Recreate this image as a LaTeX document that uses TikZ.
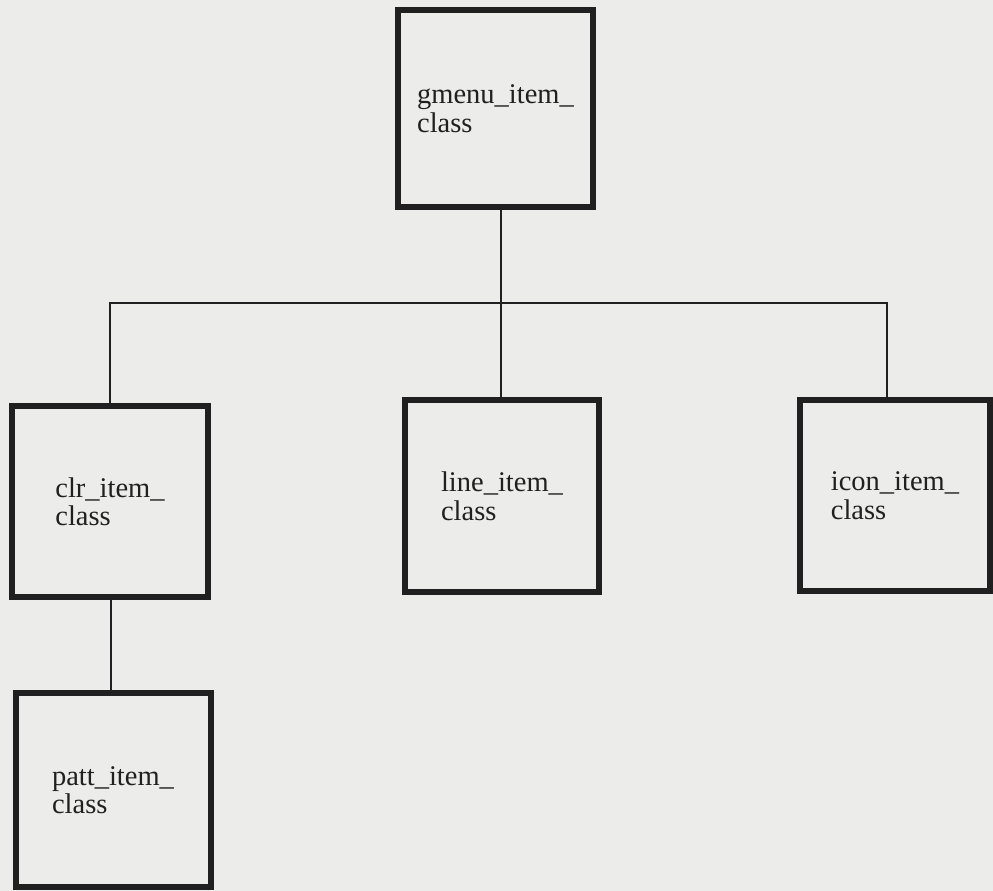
\documentclass[tikz,border=0pt]{standalone}
\usepackage{fontspec}
\setmainfont{Liberation Serif}
\definecolor{paper}{RGB}{236,236,234}
\definecolor{ink}{RGB}{32,32,32}
\begin{document}
\begin{tikzpicture}[x=1pt,y=-1pt,
  classbox/.style={draw=ink, line width=6pt, inner sep=0pt, align=left,
    text=ink, font=\fontsize{28.5}{28.5}\selectfont},
  link/.style={draw=ink, line width=1.4pt}]
\fill[paper] (0,0) rectangle (993,891);
\useasboundingbox (0,0) rectangle (993,891);
\node[classbox, minimum width=195pt, minimum height=197pt] (gmenu) at (495.5,108.5) {gmenu\_item\_\\class};
\node[classbox, minimum width=196pt, minimum height=191pt] (clr) at (110,501.5) {clr\_item\_\\class};
\node[classbox, minimum width=194pt, minimum height=192pt] (line) at (502,496) {line\_item\_\\class};
\node[classbox, minimum width=190pt, minimum height=191pt] (icon) at (895,495.5) {icon\_item\_\\class};
\node[classbox, minimum width=195pt, minimum height=194pt] (patt) at (113,790) {patt\_item\_\\class};
\coordinate (j) at (501,303);
\draw[link] (j |- gmenu.south) -- (j) -- (j |- line.north);
\draw[link] (clr.north) |- (j) -| ([xshift=-8pt]icon.north);
\draw[link] ([xshift=1pt]clr.south) -- ([xshift=1pt]clr.south |- patt.north);
\end{tikzpicture}
\end{document}
